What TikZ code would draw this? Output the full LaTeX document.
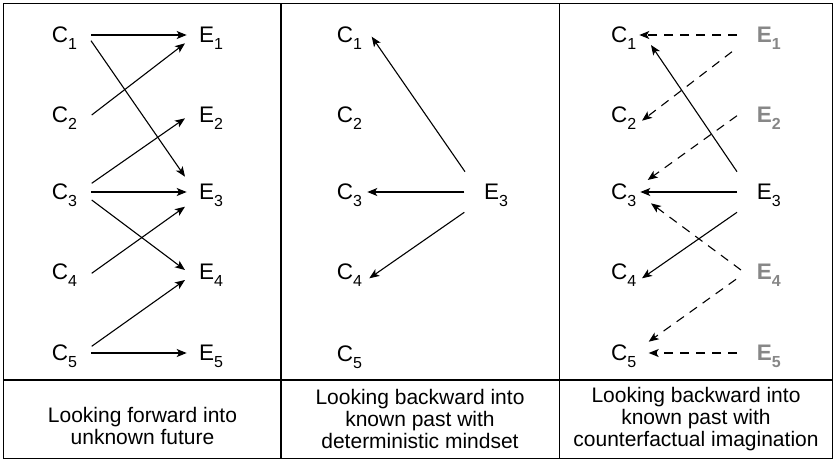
\documentclass[tikz,border=0pt]{standalone}
\usepackage{fontspec}
\setmainfont{Liberation Sans}
\usetikzlibrary{arrows.meta,calc}
\definecolor{ghost}{RGB}{135,135,135}
\newcommand\lab[2]{#1\rlap{\raisebox{-6.7pt}[0pt][0pt]{\fontsize{16}{16}\selectfont #2}}}
\begin{document}
\begin{tikzpicture}[x=1pt,y=-1pt,
  lbl/.style={inner sep=0pt,font=\fontsize{22.5}{22.5}\selectfont},
  ghostlbl/.style={lbl,text=ghost},
  link/.style={line width=1.1pt,-{Stealth[length=10pt,width=8pt,inset=2.5pt]}},
  cflink/.style={link,dash pattern=on 9pt off 7pt},
  frame/.style={line width=1.4pt},
  caption/.style={align=center,font=\fontsize{21}{22}\selectfont,inner sep=0pt}]
\useasboundingbox (0,0) rectangle (836,461);
% frame
\draw[frame] (3.5,3.5) rectangle (832.5,458.5);
\draw[frame] (281,3.5) -- (281,458.5);
\draw[frame] (559.5,3.5) -- (559.5,458.5);
\draw[frame] (3.5,380) -- (832.5,380);
% panel 1
\node[lbl] (ac1) at (60,35) {\lab{C}{1}};
\node[lbl] (ac2) at (60,115) {\lab{C}{2}};
\node[lbl] (ac3) at (60,192) {\lab{C}{3}};
\node[lbl] (ac4) at (60,272) {\lab{C}{4}};
\node[lbl] (ac5) at (60,353) {\lab{C}{5}};
\node[lbl] (ae1) at (206.7,35) {\lab{E}{1}};
\node[lbl] (ae2) at (206.7,115) {\lab{E}{2}};
\node[lbl] (ae3) at (206.7,192) {\lab{E}{3}};
\node[lbl] (ae4) at (206.7,272) {\lab{E}{4}};
\node[lbl] (ae5) at (206.7,353) {\lab{E}{5}};
\draw[link] ($(ac1)+(31,0)$) -- ($(ae1)+(-20,0)$);
\draw[link] ($(ac1)+(31,5.7)$) -- ($(ae3)+(-21.7,-15.3)$);
\draw[link] ($(ac2)+(31.7,0)$) -- ($(ae1)+(-21.7,8.3)$);
\draw[link] ($(ac3)+(31.7,-8.7)$) -- ($(ae2)+(-21.7,3.3)$);
\draw[link] ($(ac3)+(31,0)$) -- ($(ae3)+(-20,0)$);
\draw[link] ($(ac3)+(31.7,8)$) -- ($(ae4)+(-21.7,-2)$);
\draw[link] ($(ac4)+(31.7,1.3)$) -- ($(ae3)+(-21.7,14.7)$);
\draw[link] ($(ac5)+(31.7,-6.7)$) -- ($(ae4)+(-21.7,8)$);
\draw[link] ($(ac5)+(31,0)$) -- ($(ae5)+(-20,0)$);
\node[caption] (acap) at (142.5,426) {Looking forward into\\unknown future};
% panel 2
\node[lbl] (bc1) at (345,35) {\lab{C}{1}};
\node[lbl] (bc2) at (345,115) {\lab{C}{2}};
\node[lbl] (bc3) at (345,192) {\lab{C}{3}};
\node[lbl] (bc4) at (345,272) {\lab{C}{4}};
\node[lbl] (bc5) at (345,354) {\lab{C}{5}};
\node[lbl] (be3) at (491.7,192) {\lab{E}{3}};
\draw[link] ($(be3)+(-26.7,-20.3)$) -- ($(bc1)+(26.7,1.7)$);
\draw[link] ($(be3)+(-27.4,0)$) -- ($(bc3)+(22.3,0)$);
\draw[link] ($(be3)+(-27.4,20.3)$) -- ($(bc4)+(24.3,6.3)$);
\node[caption] (bcap) at (420,419) {Looking backward into\\known past with\\deterministic mindset};
% panel 3
\node[lbl] (cc1) at (619.3,35) {\lab{C}{1}};
\node[lbl] (cc2) at (619.3,115) {\lab{C}{2}};
\node[lbl] (cc3) at (619.3,192) {\lab{C}{3}};
\node[lbl] (cc4) at (619.3,272) {\lab{C}{4}};
\node[lbl] (cc5) at (619.3,353) {\lab{C}{5}};
\node[ghostlbl] (ce1) at (764.3,35) {\lab{\bfseries E}{1}};
\node[ghostlbl] (ce2) at (764.3,115) {\lab{\bfseries E}{2}};
\node[lbl] (ce3) at (764.3,192) {\lab{E}{3}};
\node[ghostlbl] (ce4) at (764.3,272) {\lab{\bfseries E}{\bfseries 4}};
\node[ghostlbl] (ce5) at (764.3,353) {\lab{\bfseries E}{\bfseries 5}};
\draw[cflink] ($(ce1)+(-27.3,0)$) -- ($(cc1)+(20,0)$);
\draw[cflink] ($(ce1)+(-32.3,16.7)$) -- ($(cc2)+(22.7,5.7)$);
\draw[cflink] ($(ce2)+(-27.3,0.7)$) -- ($(cc3)+(28.4,-12)$);
\draw[link] ($(ce3)+(-27.3,-20.3)$) -- ($(cc1)+(31.7,10)$);
\draw[link] ($(ce3)+(-27.3,0)$) -- ($(cc3)+(21,0)$);
\draw[link] ($(ce3)+(-27.3,20.3)$) -- ($(cc4)+(22.7,6.3)$);
\draw[cflink] ($(ce4)+(-23.3,-2)$) -- ($(cc3)+(31.7,11.3)$);
\draw[cflink] ($(ce4)+(-28.3,7.3)$) -- ($(cc5)+(29.4,-11.3)$);
\draw[cflink] ($(ce5)+(-27.3,0)$) -- ($(cc5)+(29.4,0)$);
\node[caption] (ccap) at (696,419) {Looking backward into\\known past with\\counterfactual imagination};
\end{tikzpicture}
\end{document}
